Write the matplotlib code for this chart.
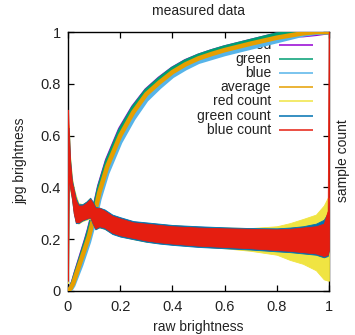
import matplotlib
matplotlib.use("Agg")
import matplotlib.pyplot as plt

plt.rcParams['font.family'] = ['Liberation Sans', 'DejaVu Sans']

# ---- data: brightness curves ----
x_curve = [0, 0.01, 0.02, 0.03, 0.05, 0.07, 0.08, 0.10, 0.12, 0.15, 0.20, 0.25,
           0.30, 0.35, 0.40, 0.45, 0.50, 0.55, 0.60, 0.70, 0.80, 0.90, 0.95, 1.00]
red_y = [0, 0.012, 0.035, 0.07, 0.135, 0.20, 0.235, 0.315, 0.405, 0.505, 0.625, 0.71,
         0.775, 0.82, 0.858, 0.887, 0.908, 0.925, 0.94, 0.965, 0.99, 0.988, 0.993, 1.0]
green_y = [0, 0.011, 0.033, 0.067, 0.13, 0.195, 0.23, 0.31, 0.40, 0.50, 0.62, 0.707,
           0.773, 0.818, 0.857, 0.886, 0.908, 0.925, 0.94, 0.965, 0.99, 1.0, 1.0, 1.0]
blue_y = [0, 0.006, 0.022, 0.048, 0.10, 0.16, 0.19, 0.265, 0.355, 0.455, 0.575, 0.665,
          0.738, 0.787, 0.83, 0.86, 0.885, 0.90, 0.915, 0.94, 0.965, 0.99, 0.997, 1.0]
avg_y = [0, 0.01, 0.03, 0.06, 0.12, 0.18, 0.21, 0.29, 0.38, 0.48, 0.60, 0.69,
         0.76, 0.805, 0.845, 0.875, 0.898, 0.915, 0.93, 0.955, 0.978, 0.995, 1.0, 1.0]

# ---- data: sample count envelopes (noisy bands, lower/upper) ----
x_count = [0, 0.003, 0.008, 0.015, 0.022, 0.03, 0.04, 0.055, 0.07, 0.085, 0.095, 0.105,
           0.12, 0.14, 0.17, 0.2, 0.25, 0.3, 0.35, 0.4, 0.5, 0.6, 0.7, 0.8, 0.85,
           0.9, 0.95, 0.98, 0.995, 1.0]
red_cnt_hi = [0.33, 0.64, 0.52, 0.44, 0.40, 0.37, 0.34, 0.335, 0.345, 0.36, 0.34, 0.325,
              0.322, 0.312, 0.292, 0.282, 0.268, 0.262, 0.258, 0.254, 0.248, 0.245, 0.243,
              0.25, 0.262, 0.278, 0.295, 0.33, 0.36, 0.36]
red_cnt_lo = [0.03, 0.40, 0.39, 0.355, 0.31, 0.27, 0.26, 0.27, 0.275, 0.28, 0.26, 0.24,
              0.245, 0.24, 0.222, 0.212, 0.2, 0.19, 0.185, 0.18, 0.172, 0.165, 0.155,
              0.14, 0.12, 0.105, 0.08, 0.045, 0.04, 0.04]
green_cnt_hi = [0.50, 0.63, 0.51, 0.43, 0.395, 0.36, 0.335, 0.335, 0.345, 0.36, 0.345, 0.325,
                0.322, 0.315, 0.295, 0.285, 0.27, 0.265, 0.26, 0.255, 0.25, 0.246, 0.243,
                0.242, 0.245, 0.25, 0.26, 0.275, 0.30, 0.345]
green_cnt_lo = [0.04, 0.44, 0.40, 0.355, 0.30, 0.262, 0.262, 0.272, 0.278, 0.283, 0.258, 0.238,
                0.246, 0.24, 0.22, 0.21, 0.2, 0.19, 0.183, 0.178, 0.17, 0.165, 0.16,
                0.153, 0.15, 0.145, 0.14, 0.13, 0.135, 0.158]
blue_cnt_hi = [0.70, 0.62, 0.50, 0.42, 0.39, 0.35, 0.33, 0.33, 0.34, 0.355, 0.34, 0.32,
               0.32, 0.31, 0.29, 0.28, 0.265, 0.26, 0.255, 0.25, 0.245, 0.242, 0.24,
               0.238, 0.24, 0.245, 0.25, 0.26, 0.31, 1.2]
blue_cnt_lo = [0.04, 0.45, 0.40, 0.36, 0.30, 0.266, 0.265, 0.275, 0.28, 0.285, 0.262, 0.242,
               0.25, 0.245, 0.225, 0.215, 0.205, 0.195, 0.188, 0.183, 0.175, 0.17, 0.165,
               0.158, 0.155, 0.15, 0.145, 0.135, 0.14, 0.16]

ticks = [0, 0.2, 0.4, 0.6, 0.8, 1]
tick_labels = ["0", "0.2", "0.4", "0.6", "0.8", "1"]

legend_labels = ["red", "green", "blue", "average", "red count", "green count", "blue count"]
colors = ["#9400d3", "#009e73", "#56b4e9", "#e69f00", "#f0e442", "#0072b2", "#e51e10"]

W, H = 355, 335
fig = plt.figure(figsize=(W / 100, H / 100), dpi=100)
L, R, T, B = 68, 329, 32, 291
ax = fig.add_axes([L / W, (H - B) / H, (R - L) / W, (B - T) / H])
ax.set_xlim(0, 1)
ax.set_ylim(0, 1)

# legend (drawn under the data, like gnuplot's key)
for i, (lab, c) in enumerate(zip(legend_labels, colors)):
    yy = 0.950 - i * 0.0545
    ax.text(0.778, yy, lab, transform=ax.transAxes, ha='right', va='center',
            fontsize=10, color='#222222', zorder=1)
    ax.plot([0.808, 0.939], [yy, yy], transform=ax.transAxes, color=c, lw=1.1,
            zorder=1, solid_capstyle='butt')

# brightness curves
lw_curve = 3.3
ax.plot(x_curve, red_y, color=colors[0], lw=lw_curve, zorder=3)
ax.plot(x_curve, green_y, color=colors[1], lw=lw_curve, zorder=3.1)
ax.plot(x_curve, blue_y, color=colors[2], lw=lw_curve, zorder=3.2)
ax.plot(x_curve, avg_y, color=colors[3], lw=lw_curve, zorder=3.3)

# sample counts
ax.fill_between(x_count, red_cnt_lo, red_cnt_hi, color=colors[4], lw=0.6, ec=colors[4], zorder=4)
ax.fill_between(x_count, green_cnt_lo, green_cnt_hi, color=colors[5], lw=0.6, ec=colors[5], zorder=4.1)
ax.fill_between(x_count, blue_cnt_lo, blue_cnt_hi, color=colors[6], lw=0.6, ec=colors[6], zorder=4.2)

ax.set_xticks(ticks)
ax.set_xticklabels(tick_labels)
ax.set_yticks(ticks)
ax.set_yticklabels(tick_labels)
ax.tick_params(direction='in', length=4.3, width=0.9, top=True, right=True,
               labelsize=10.5, colors='black', labelcolor='#222222')
ax.tick_params(axis='x', pad=6.5)
ax.tick_params(axis='y', pad=5)
for s in ax.spines.values():
    s.set_linewidth(1.0)
    s.set_zorder(2)

fig.text(198 / W, 1 - 11 / H, "measured data", ha='center', va='center', fontsize=10, color='#222222')
fig.text(198 / W, 1 - 327 / H, "raw brightness", ha='center', va='center', fontsize=10, color='#222222')
fig.text(20 / W, 1 - 161 / H, "jpg brightness", ha='center', va='center', rotation=90,
         fontsize=10, color='#222222')
fig.text(342.5 / W, 1 - 161 / H, "sample count", ha='center', va='center', rotation=90,
         fontsize=10, color='#222222')

fig.savefig("out.png", dpi=100)
